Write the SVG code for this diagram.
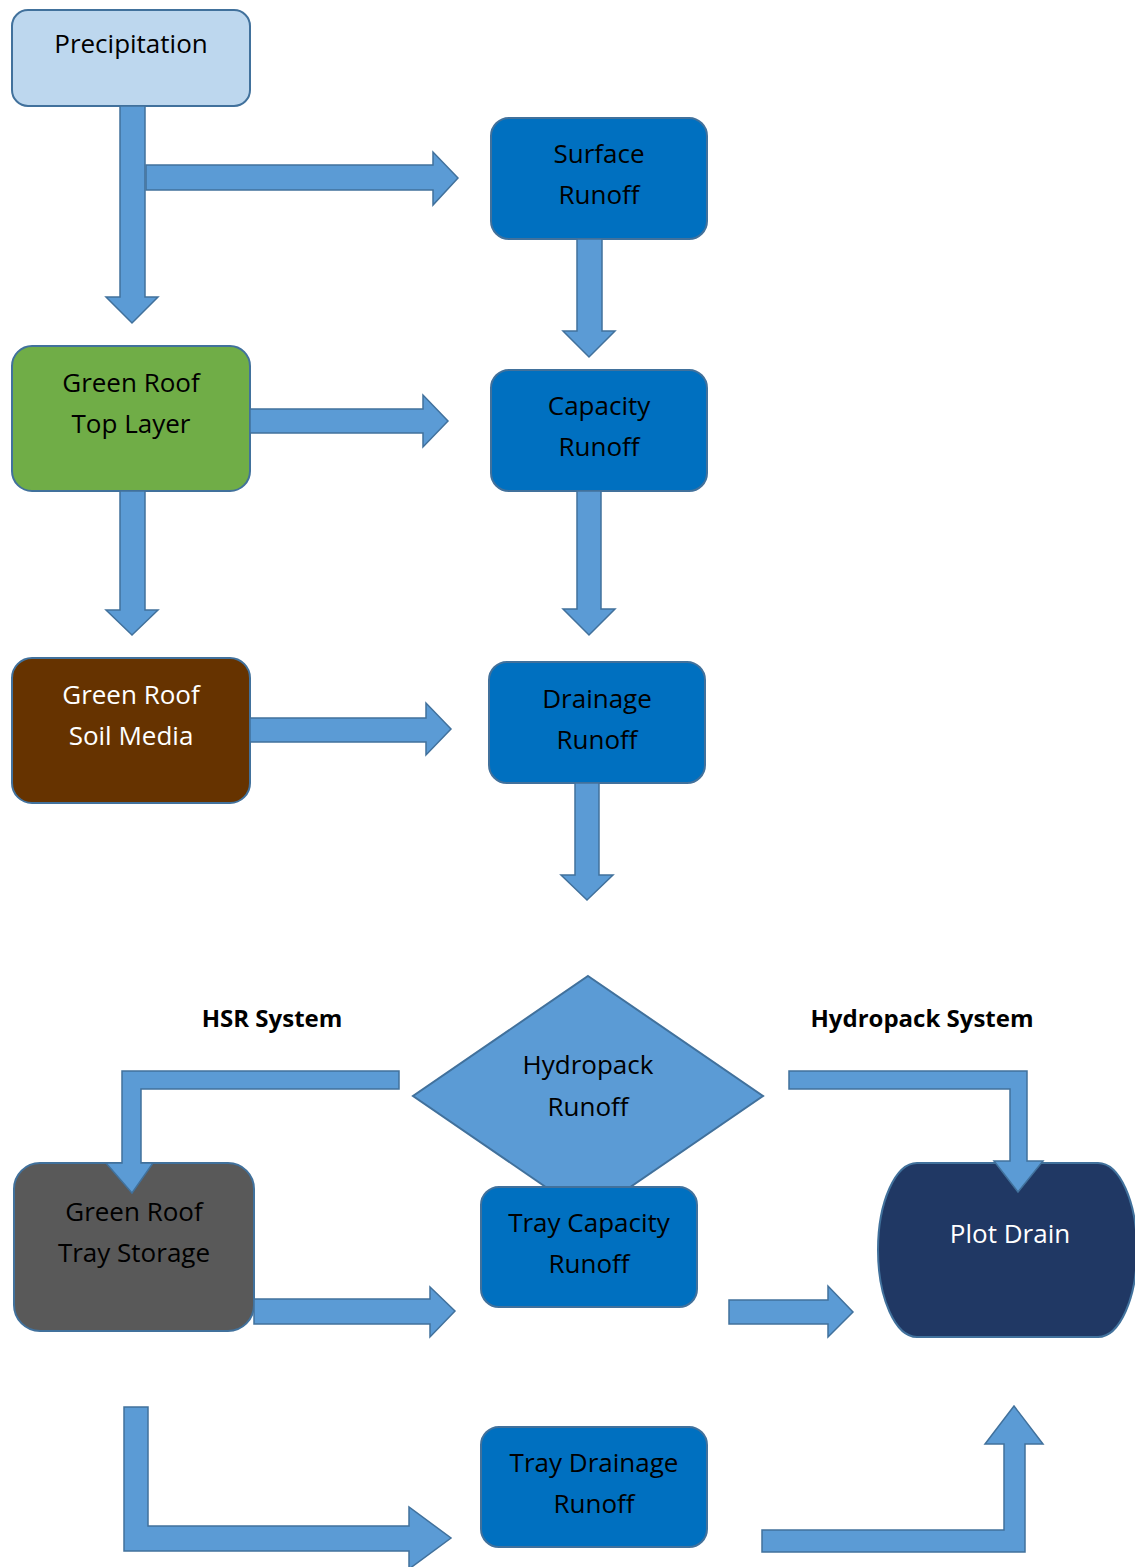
<svg xmlns="http://www.w3.org/2000/svg" width="1135" height="1567" viewBox="0 0 1135 1567">
<style>
.box{stroke:#41719C;stroke-width:2}
.arr{fill:#5B9BD5;stroke:#41719C;stroke-width:1.5;stroke-linejoin:miter}
text{font-family:"Open Sans","Liberation Sans",sans-serif;font-size:26px;text-anchor:middle;fill:#000}
.w{fill:#fff}
.lbl{font-weight:bold;font-size:24px}
</style>
<rect width="1135" height="1567" fill="#fff"/>
<g id="precipitation">
<rect class="box" x="12" y="10" width="238" height="96" rx="16" fill="#BDD7EE"/>
<text x="131" y="53">Precipitation</text>
</g>
<g id="surface-runoff">
<rect class="box" x="491" y="118" width="216" height="121" rx="18" fill="#0070C0"/>
<text x="599" y="163">Surface</text>
<text x="599" y="204">Runoff</text>
</g>
<g id="top-layer">
<rect class="box" x="12" y="346" width="238" height="145" rx="20" fill="#70AD47"/>
<text x="131" y="392">Green Roof</text>
<text x="131" y="433">Top Layer</text>
</g>
<g id="capacity-runoff">
<rect class="box" x="491" y="370" width="216" height="121" rx="18" fill="#0070C0"/>
<text x="599" y="415">Capacity</text>
<text x="599" y="456">Runoff</text>
</g>
<g id="soil-media">
<rect class="box" x="12" y="658" width="238" height="145" rx="20" fill="#663300"/>
<text class="w" x="131" y="704">Green Roof</text>
<text class="w" x="131" y="745">Soil Media</text>
</g>
<g id="drainage-runoff">
<rect class="box" x="489" y="662" width="216" height="121" rx="18" fill="#0070C0"/>
<text x="597" y="708">Drainage</text>
<text x="597" y="749">Runoff</text>
</g>
<g id="hsr-label"><text class="lbl" x="272" y="1027">HSR System</text></g>
<g id="hydropack-label"><text class="lbl" x="922" y="1027">Hydropack System</text></g>
<g id="hydropack-runoff">
<polygon class="box" points="588,976 763,1096 588,1216 413,1096" fill="#5B9BD5" stroke-width="1.5"/>
<text x="588" y="1074">Hydropack</text>
<text x="588" y="1116">Runoff</text>
</g>
<g id="tray-storage">
<rect class="box" x="14" y="1163" width="240" height="168" rx="26" fill="#595959"/>
<text x="134" y="1221">Green Roof</text>
<text x="134" y="1262">Tray Storage</text>
</g>
<g id="tray-capacity-runoff">
<rect class="box" x="481" y="1187" width="216" height="120" rx="18" fill="#0070C0"/>
<text x="589" y="1232">Tray Capacity</text>
<text x="589" y="1273">Runoff</text>
</g>
<g id="plot-drain">
<path class="box" d="M917,1163 L1098,1163 A39,87 0 0 1 1098,1337 L917,1337 A39,87 0 0 1 917,1163 Z" fill="#203864"/>
<text class="w" x="1010" y="1243">Plot Drain</text>
</g>
<g id="tray-drainage-runoff">
<rect class="box" x="481" y="1427" width="226" height="120" rx="18" fill="#0070C0"/>
<text x="594" y="1472">Tray Drainage</text>
<text x="594" y="1513">Runoff</text>
</g>
<g id="connectors">
<polygon class="arr" points="120,106 145,106 145,297 158,297 132,323 106,297 120,297"/>
<polygon class="arr" points="146,165 433,165 433,152 458,178 433,205 433,190 146,190"/>
<polygon class="arr" points="577,239 602,239 602,331 615,331 589,357 563,331 577,331"/>
<polygon class="arr" points="250,409 423,409 423,395 448,421 423,447 423,433 250,433"/>
<polygon class="arr" points="120,491 145,491 145,610 158,610 132,635 106,610 120,610"/>
<polygon class="arr" points="577,491 601,491 601,609 615,609 589,635 563,609 577,609"/>
<polygon class="arr" points="250,718 426,718 426,703 451,729 426,755 426,742 250,742"/>
<polygon class="arr" points="575,783 599,783 599,875 613,875 587,900 561,875 575,875"/>
<polygon class="arr" points="399,1071 122,1071 122,1163 106,1163 132,1193 153,1163 141,1163 141,1089 399,1089"/>
<polygon class="arr" points="789,1071 1027,1071 1027,1161 1043,1161 1018,1192 994,1161 1010,1161 1010,1089 789,1089"/>
<polygon class="arr" points="254,1299 430,1299 430,1287 455,1311 430,1337 430,1324 254,1324"/>
<polygon class="arr" points="729,1300 828,1300 828,1286 853,1312 828,1337 828,1324 729,1324"/>
<polygon class="arr" points="124,1407 148,1407 148,1526 409,1526 409,1507 451,1538 409,1569 409,1551 124,1551"/>
<polygon class="arr" points="762,1530 1004,1530 1004,1444 985,1444 1014,1406 1043,1444 1025,1444 1025,1552 762,1552"/>
</g>
</svg>
